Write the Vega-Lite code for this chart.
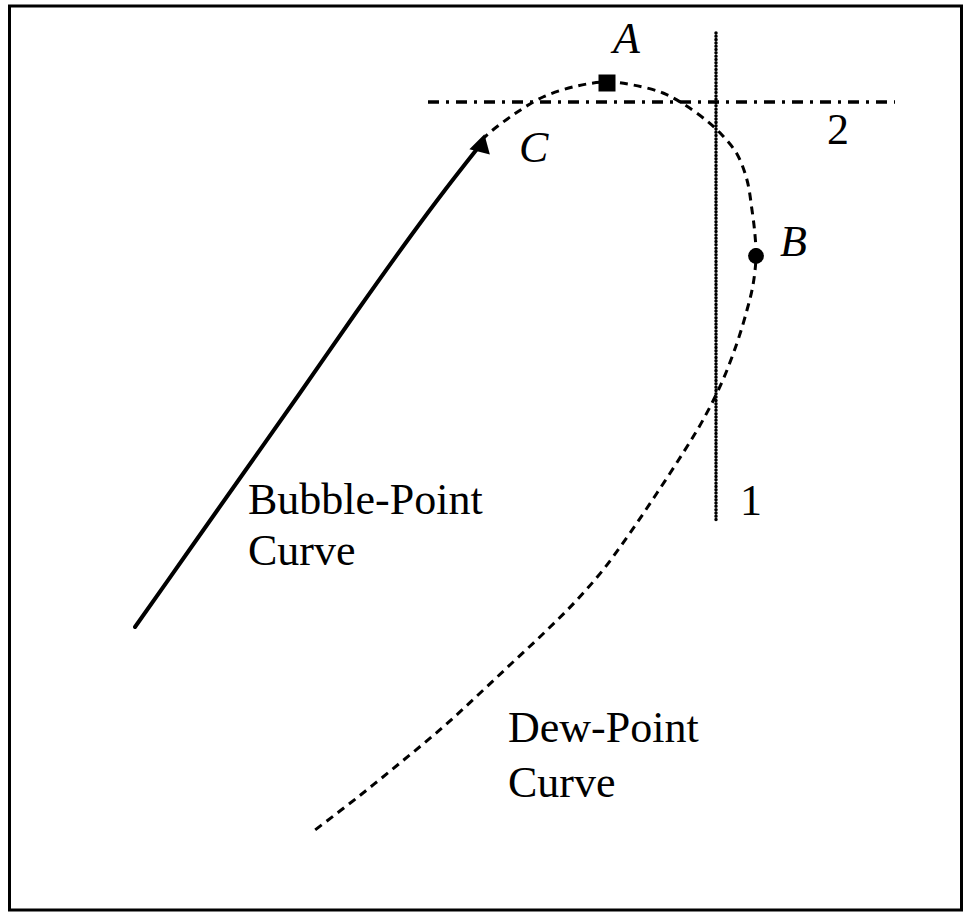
{
  "$schema": "https://vega.github.io/schema/vega-lite/v6.json",
  "width": 964,
  "height": 914,
  "autosize": {"type": "fit", "contains": "padding"},
  "padding": 0,
  "background": "white",
  "config": {"view": {"stroke": null}},
  "datasets": {
    "frame": [{"x1": 9.5, "x2": 961.5, "y1": 6, "y2": 910}],
    "bubble": [
      {"i": 0, "x": 135, "y": 627},
      {"i": 1, "x": 190, "y": 549},
      {"i": 2, "x": 245, "y": 471},
      {"i": 3, "x": 300, "y": 393},
      {"i": 4, "x": 355, "y": 314},
      {"i": 5, "x": 410, "y": 237},
      {"i": 6, "x": 445, "y": 190},
      {"i": 7, "x": 477, "y": 149}
    ],
    "dew": [
      {"i": 0, "x": 482, "y": 140},
      {"i": 1, "x": 488, "y": 134},
      {"i": 2, "x": 513, "y": 115},
      {"i": 3, "x": 543, "y": 97},
      {"i": 4, "x": 577, "y": 86},
      {"i": 5, "x": 607, "y": 82},
      {"i": 6, "x": 633, "y": 85},
      {"i": 7, "x": 663, "y": 93},
      {"i": 8, "x": 685, "y": 105},
      {"i": 9, "x": 707, "y": 121},
      {"i": 10, "x": 722, "y": 135},
      {"i": 11, "x": 737, "y": 154},
      {"i": 12, "x": 747, "y": 180},
      {"i": 13, "x": 752, "y": 210},
      {"i": 14, "x": 755, "y": 235},
      {"i": 15, "x": 756, "y": 257},
      {"i": 16, "x": 753, "y": 285},
      {"i": 17, "x": 747, "y": 310},
      {"i": 18, "x": 737, "y": 343},
      {"i": 19, "x": 722, "y": 382},
      {"i": 20, "x": 703, "y": 420},
      {"i": 21, "x": 683, "y": 453},
      {"i": 22, "x": 657, "y": 493},
      {"i": 23, "x": 630, "y": 533},
      {"i": 24, "x": 603, "y": 570},
      {"i": 25, "x": 575, "y": 602},
      {"i": 26, "x": 545, "y": 632},
      {"i": 27, "x": 512, "y": 663},
      {"i": 28, "x": 478, "y": 695},
      {"i": 29, "x": 442, "y": 728},
      {"i": 30, "x": 400, "y": 763},
      {"i": 31, "x": 358, "y": 797},
      {"i": 32, "x": 315, "y": 830}
    ],
    "hline": [{"x1": 428, "x2": 895, "y": 102}],
    "vline": [{"x": 716, "y1": 33, "y2": 522}],
    "points": [
      {"x": 607, "y": 83, "shape": "square", "size": 289},
      {"x": 756, "y": 256, "shape": "circle", "size": 250}
    ],
    "tri": [{"x": 482, "y": 143}],
    "italic": [
      {"x": 613, "y": 53, "text": "A"},
      {"x": 780, "y": 256, "text": "B"},
      {"x": 519, "y": 162, "text": "C"}
    ],
    "normal": [
      {"x": 248, "y": 514, "text": "Bubble-Point"},
      {"x": 248, "y": 565, "text": "Curve"},
      {"x": 508, "y": 742, "text": "Dew-Point"},
      {"x": 508, "y": 797, "text": "Curve"},
      {"x": 827, "y": 144, "text": "2"},
      {"x": 740, "y": 515, "text": "1"}
    ]
  },
  "layer": [
    {
      "data": {"name": "frame"},
      "mark": {"type": "rect", "fill": null, "stroke": "black", "strokeWidth": 3},
      "encoding": {
        "x": {"field": "x1", "type": "quantitative", "scale": {"domain": [0, 964], "nice": false, "zero": false}, "axis": null},
        "x2": {"field": "x2"},
        "y": {"field": "y1", "type": "quantitative", "scale": {"domain": [0, 914], "nice": false, "zero": false, "reverse": true}, "axis": null},
        "y2": {"field": "y2"}
      }
    },
    {
      "data": {"name": "bubble"},
      "mark": {"type": "line", "color": "black", "strokeWidth": 4, "interpolate": "catmull-rom", "strokeCap": "round"},
      "encoding": {
        "x": {"field": "x", "type": "quantitative", "axis": null},
        "y": {"field": "y", "type": "quantitative", "axis": null},
        "order": {"field": "i"}
      }
    },
    {
      "data": {"name": "dew"},
      "mark": {"type": "line", "color": "black", "strokeWidth": 3, "strokeDash": [8, 6], "interpolate": "catmull-rom"},
      "encoding": {
        "x": {"field": "x", "type": "quantitative", "axis": null},
        "y": {"field": "y", "type": "quantitative", "axis": null},
        "order": {"field": "i"}
      }
    },
    {
      "data": {"name": "hline"},
      "mark": {"type": "rule", "color": "black", "strokeWidth": 3.5, "strokeDash": [11, 7, 3, 7]},
      "encoding": {
        "x": {"field": "x1", "type": "quantitative", "axis": null},
        "x2": {"field": "x2"},
        "y": {"field": "y", "type": "quantitative", "axis": null}
      }
    },
    {
      "data": {"name": "vline"},
      "mark": {"type": "rule", "color": "black", "strokeWidth": 3.5, "strokeDash": [0.01, 3.3], "strokeCap": "round"},
      "encoding": {
        "x": {"field": "x", "type": "quantitative", "axis": null},
        "y": {"field": "y1", "type": "quantitative", "axis": null},
        "y2": {"field": "y2"}
      }
    },
    {
      "data": {"name": "points"},
      "mark": {"type": "point", "filled": true, "color": "black", "opacity": 1},
      "encoding": {
        "x": {"field": "x", "type": "quantitative", "axis": null},
        "y": {"field": "y", "type": "quantitative", "axis": null},
        "shape": {"field": "shape", "type": "nominal", "scale": null, "legend": null},
        "size": {"field": "size", "type": "quantitative", "scale": null, "legend": null}
      }
    },
    {
      "data": {"name": "tri"},
      "mark": {"type": "point", "filled": true, "color": "black", "opacity": 1, "shape": "triangle-up", "size": 450, "angle": 15},
      "encoding": {
        "x": {"field": "x", "type": "quantitative", "axis": null},
        "y": {"field": "y", "type": "quantitative", "axis": null}
      }
    },
    {
      "data": {"name": "italic"},
      "mark": {"type": "text", "font": "Liberation Serif", "fontStyle": "italic", "fontSize": 44, "align": "left", "baseline": "alphabetic", "color": "black"},
      "encoding": {
        "x": {"field": "x", "type": "quantitative", "axis": null},
        "y": {"field": "y", "type": "quantitative", "axis": null},
        "text": {"field": "text"}
      }
    },
    {
      "data": {"name": "normal"},
      "mark": {"type": "text", "font": "Liberation Serif", "fontSize": 44, "align": "left", "baseline": "alphabetic", "color": "black"},
      "encoding": {
        "x": {"field": "x", "type": "quantitative", "axis": null},
        "y": {"field": "y", "type": "quantitative", "axis": null},
        "text": {"field": "text"}
      }
    }
  ]
}
